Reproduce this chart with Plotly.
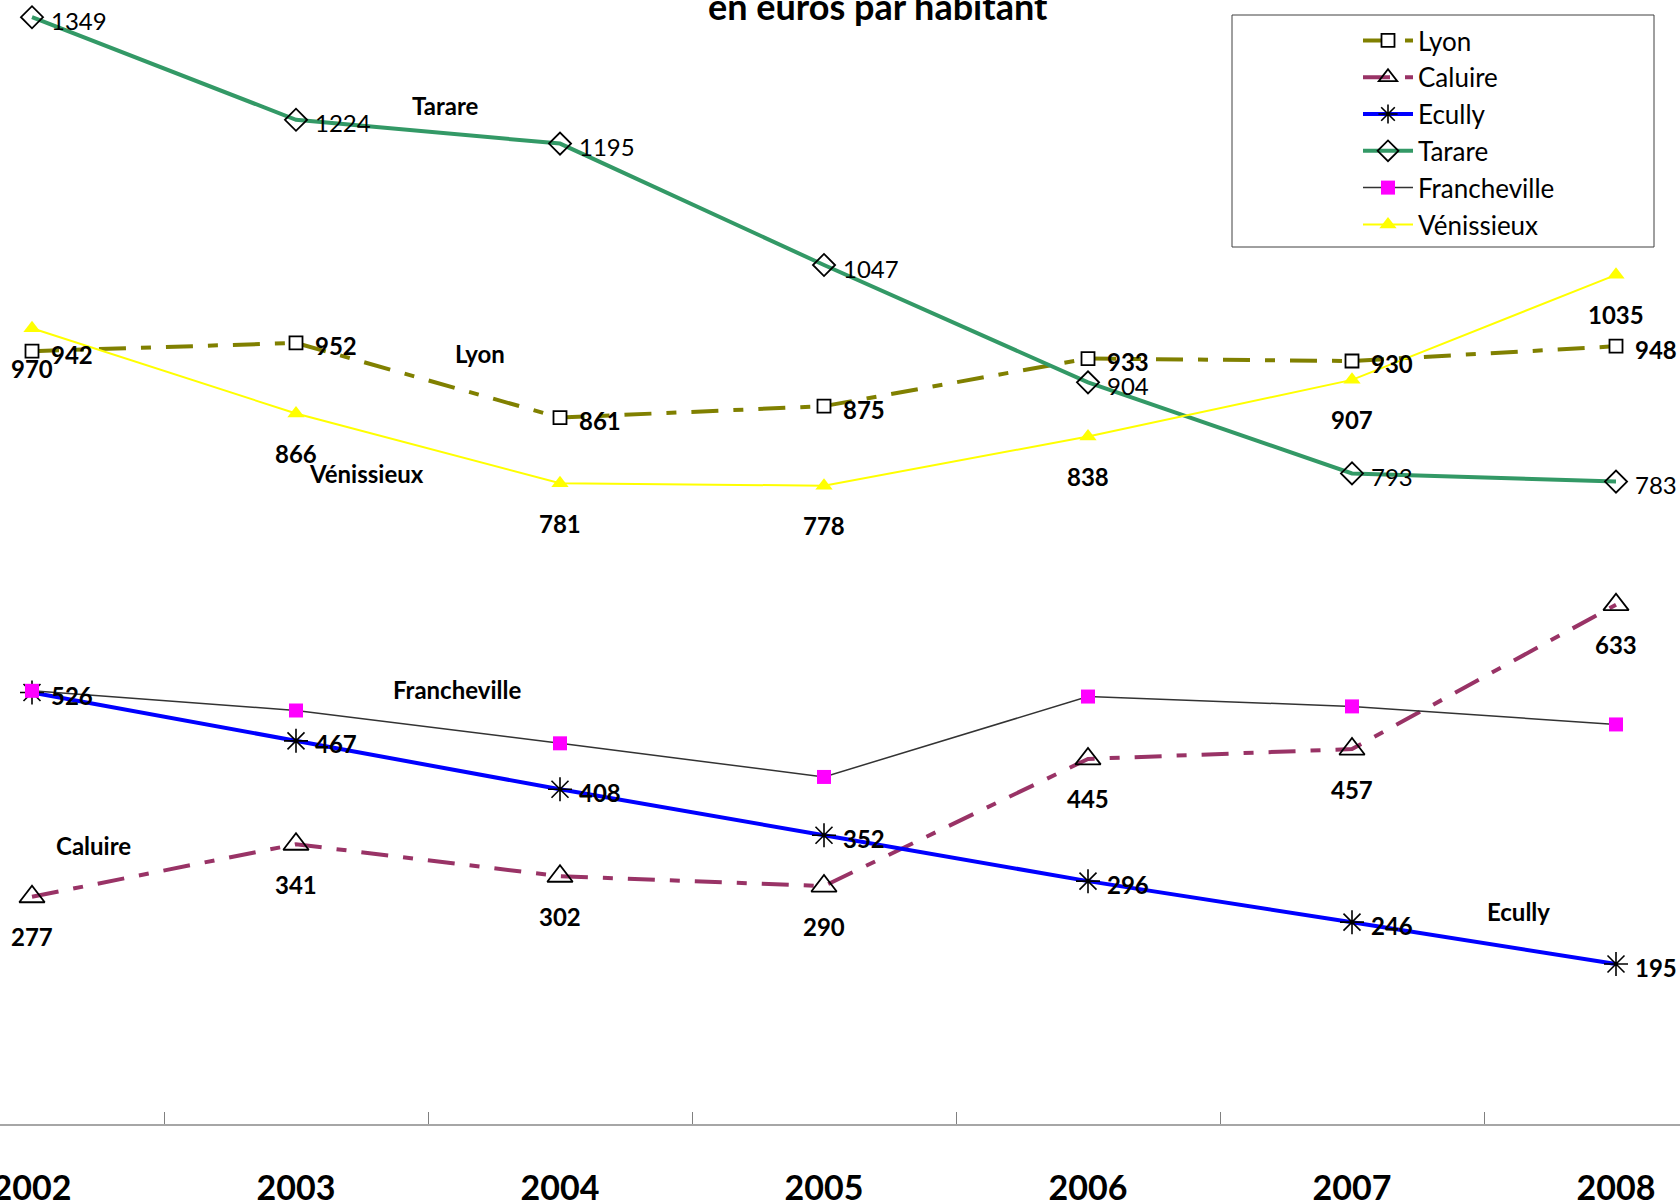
import plotly.graph_objects as go

# Données (euros par habitant)
ANNEES = ['2002', '2003', '2004', '2005', '2006', '2007', '2008']
LYON = [942, 952, 861, 875, 933, 930, 948]
CALUIRE = [277, 341, 302, 290, 445, 457, 633]
ECULLY = [526, 467, 408, 352, 296, 246, 195]
TARARE = [1349, 1224, 1195, 1047, 904, 793, 783]
FRANCHEVILLE = [528, 504, 464, 423, 521, 509, 487]
VENISSIEUX = [970, 866, 781, 778, 838, 907, 1035]

FONT = 'Lato'
W, H = 1680, 1202
PLOT_H = 1124            # hauteur de la zone de tracé (axe x en bas)

x = list(range(len(ANNEES)))

# nom, valeurs, ligne, marqueur, étiquettes (gras, position)
SERIES = [
    ('Lyon', LYON,
     dict(color='#808000', width=4, dash='27px,15px,10px,15px'),
     dict(symbol='square', size=13, color='white', line=dict(color='black', width=1.8)),
     (True, 'right')),
    ('Caluire', CALUIRE,
     dict(color='#993366', width=4, dash='27px,15px,10px,15px'),
     dict(symbol='triangle-up-open', size=22, color='black', line=dict(color='black', width=1.8)),
     (True, 'below')),
    ('Ecully', ECULLY,
     dict(color='#0000FF', width=4),
     dict(symbol='asterisk-open', size=20, color='black', line=dict(color='black', width=1.6)),
     (True, 'right')),
    ('Tarare', TARARE,
     dict(color='#339966', width=4),
     dict(symbol='diamond-open', size=17, color='black', line=dict(color='black', width=1.8)),
     (False, 'right')),
    ('Francheville', FRANCHEVILLE,
     dict(color='#333333', width=1.5),
     dict(symbol='square', size=14, color='#FF00FF', line=dict(width=0)),
     None),
    ('Vénissieux', VENISSIEUX,
     dict(color='#FFFF00', width=2),
     dict(symbol='triangle-up', size=15, color='#FFFF00', line=dict(width=0)),
     (True, 'below')),
]

fig = go.Figure()
annotations = []

for i, (nom, vals, ligne, marq, etiq) in enumerate(SERIES):
    fig.add_trace(go.Scatter(
        x=x, y=vals, name=nom, mode='lines+markers',
        line=ligne, marker=marq, legendgroup=nom,
        hovertemplate=f'<b>{nom}</b><br>%{{y}} €/hab<extra></extra>'
    ))
    if etiq is None:
        continue
    gras, pos = etiq
    for xi, v in zip(x, vals):
        txt = f'<b>{v}</b>' if gras else str(v)
        if pos == 'right':
            annotations.append(dict(
                x=xi, y=v, xref='x', yref='y', text=txt, showarrow=False,
                xanchor='left', yanchor='middle', xshift=17, yshift=-3,
                font=dict(family=FONT, size=24, color='black')))
        else:
            annotations.append(dict(
                x=xi, y=v, xref='x', yref='y', text=txt, showarrow=False,
                xanchor='center', yanchor='middle', yshift=-40,
                font=dict(family=FONT, size=24, color='black')))

# Noms des communes placés sur le graphique
NOMS = [('Tarare', 1.567, 1242), ('Lyon', 1.697, 939), ('Vénissieux', 1.267, 793),
        ('Francheville', 1.608, 530), ('Caluire', 0.232, 340), ('Ecully', 5.630, 259)]
for nom, xn, yn in NOMS:
    annotations.append(dict(
        x=xn, y=yn, xref='x', yref='y', text=f'<b>{nom}</b>', showarrow=False,
        xanchor='center', yanchor='middle',
        font=dict(family=FONT, size=24, color='black')))

# Titre (coupé en haut de l'image)
annotations.append(dict(
    x=878 / W, y=1 - 6 / PLOT_H, xref='paper', yref='paper',
    text='<b>en euros par habitant</b>', showarrow=False,
    xanchor='center', yanchor='middle',
    font=dict(family=FONT, size=36, color='black')))

fig.update_layout(
    width=W, height=H,
    margin=dict(l=0, r=0, t=0, b=H - PLOT_H, pad=0),
    paper_bgcolor='white', plot_bgcolor='white',
    font=dict(family=FONT, color='black'),
    annotations=annotations,
    showlegend=True,
    legend=dict(
        x=1358 / W, xanchor='left', y=1 - 17 / PLOT_H, yanchor='top',
        bgcolor='rgba(0,0,0,0)', borderwidth=0,
        font=dict(family=FONT, size=26, color='black'),
        tracegroupgap=0, itemwidth=50,
    ),
    shapes=[dict(
        type='rect', xref='paper', yref='paper',
        x0=1232 / W, x1=1654 / W, y0=1 - 247 / PLOT_H, y1=1 - 15 / PLOT_H,
        line=dict(color='#404040', width=1), fillcolor='rgba(0,0,0,0)', layer='below')],
)

fig.update_xaxes(
    range=[-32 / 264, (W - 32) / 264],
    tickvals=x, ticktext=ANNEES, ticks='', ticklabelstandoff=33,
    ticklabeloverflow='allow',
    tickfont=dict(family=FONT, size=34, color='black', weight='bold'),
    showline=True, linecolor='#A6A6A6', linewidth=1.5,
    showgrid=False, zeroline=False, automargin=False,
    minor=dict(tickvals=[k + 0.5 for k in range(-1, 7)], ticks='inside',
               ticklen=12, tickcolor='#808080', tickwidth=1, showgrid=False),
)
fig.update_yaxes(range=[0, 1370], visible=False, showgrid=False, zeroline=False)

# marge du body à zéro pour que le graphique commence au coin de la page
fig.write_html('out.html', config={'displayModeBar': False},
               post_script="document.body.style.margin='0';")
